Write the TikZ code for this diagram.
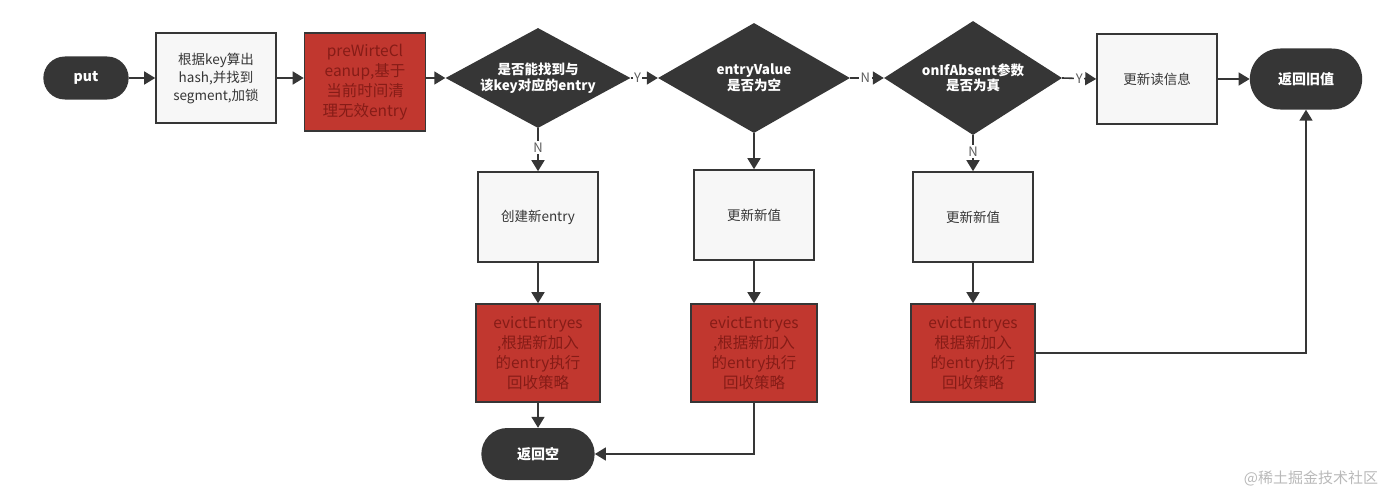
\documentclass[tikz,border=0pt]{standalone}
\usepackage{fontspec}
\setmainfont{Noto Sans CJK SC}
\usetikzlibrary{arrows.meta,positioning,shapes.geometric,shapes.misc}

\definecolor{darkbox}{HTML}{363636}
\definecolor{redbox}{HTML}{C1372F}
\definecolor{redtext}{HTML}{861C17}
\definecolor{lightbox}{HTML}{F7F7F7}

\tikzset{
  pill/.style={rounded rectangle, fill=darkbox, text=white,
    font=\bfseries\fontsize{14}{16}\selectfont, minimum width=120pt, minimum height=52pt},
  procbox/.style={rectangle, draw=darkbox, line width=1.6pt, fill=lightbox, text=darkbox,
    align=center, font=\fontsize{13.5}{18}\selectfont, minimum width=120pt, minimum height=90pt},
  redproc/.style={procbox, fill=redbox, text=redtext, font=\fontsize{15.5}{20}\selectfont,
    minimum width=124pt, minimum height=98pt, inner sep=2pt},
  decision/.style={diamond, fill=darkbox, text=white, align=center, inner sep=0pt,
    font=\bfseries\fontsize{13.5}{15.5}\selectfont},
  conn/.style={draw=darkbox, line width=1.6pt, -{Triangle[length=11pt,width=13pt]}},
  yn/.style={fill=white, text=darkbox!80, font=\fontsize{13}{14}\selectfont, inner sep=1.5pt}
}

\begin{document}
\begin{tikzpicture}[x=1pt,y=-1pt]
  \useasboundingbox (0,0) rectangle (1397,495);
  % top row
  \node[pill, minimum width=92pt, minimum height=43pt] (put) at (86,78) {put};
  \node[procbox] (hash) at (216,78) {根据key算出\\hash,并找到\\segment,加锁};
  \node[redproc, minimum width=121pt] (clean) at (365,82) {preWirteCl\\eanup,基于\\当前时间清\\理无效entry};
  \node[decision, aspect=1.9, minimum width=185pt, minimum height=100pt] (find) at (538,78) {是否能找到与\\该key对应的entry};
  \node[decision, aspect=1.75, minimum width=192pt, minimum height=110pt] (isnull) at (754,78) {entryValue\\是否为空};
  \node[decision, aspect=1.6, minimum width=178pt, minimum height=114pt] (absent) at (973,78) {onIfAbsent参数\\是否为真};
  \node[procbox] (readinfo) at (1157,79) {更新读信息};
  \node[pill, minimum width=119pt, minimum height=61pt] (retold) at (1306,79) {返回旧值};
  % lower columns
  \node[procbox] (create) at (538,217) {创建新entry};
  \node[redproc] (evictA) at (538,353) {evictEntryes\\,根据新加入\\的entry执行\\回收策略};
  \node[pill] (retnull) at (538,454) {返回空};
  \node[procbox] (updA) at (754,215) {更新新值};
  \node[redproc, minimum width=126pt] (evictB) at (754,353) {evictEntryes\\,根据新加入\\的entry执行\\回收策略};
  \node[procbox] (updB) at (973,217) {更新新值};
  \node[redproc] (evictC) at (973,353) {evictEntryes\\根据新加入\\的entry执行\\回收策略};
  % watermark
  \node[text=gray!55, font=\fontsize{15}{16}\selectfont] (mark) at (1311,478) {@稀土掘金技术社区};

  % connectors
  \draw[conn] (put) -- (hash);
  \draw[conn] (hash.east) -- (hash.east -| clean.west);
  \draw[conn] (clean.east |- find.west) -- (find.west);
  \draw[conn] (find.east) -- node[yn, pos=0.25]{Y} (isnull.west);
  \draw[conn] (isnull.east) -- node[yn, pos=0.45]{N} (absent.west);
  \draw[conn] (absent.east) -- node[yn, pos=0.5]{Y} (readinfo.west);
  \draw[conn] (readinfo) -- (retold);
  \draw[conn] (find.south) -- node[yn, pos=0.45]{N} (create.north);
  \draw[conn] (isnull.south) -- (updA.north);
  \draw[conn] (absent.south) -- node[yn, pos=0.45]{N} (updB.north);
  \draw[conn] (create) -- (evictA);
  \draw[conn] (updA) -- (evictB);
  \draw[conn] (updB) -- (evictC);
  \draw[conn] (evictA) -- (retnull);
  \draw[conn] (evictB.south) |- (retnull.east);
  \draw[conn] (evictC.east) -| (retold.south);
\end{tikzpicture}
\end{document}
